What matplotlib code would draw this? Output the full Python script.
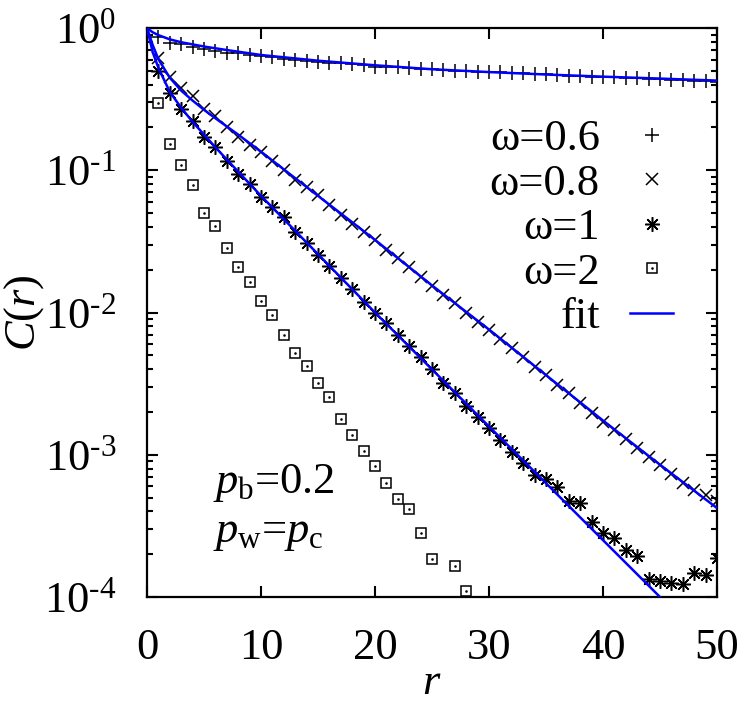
import numpy as np
import matplotlib
matplotlib.use("Agg")
from matplotlib import pyplot as plt
from matplotlib.ticker import FixedLocator, LogLocator, NullFormatter, FuncFormatter
from matplotlib.lines import Line2D

plt.rcParams['font.family'] = ['Liberation Serif', 'DejaVu Serif']
plt.rcParams['mathtext.fontset'] = 'custom'
plt.rcParams['mathtext.rm'] = 'Liberation Serif'
plt.rcParams['mathtext.it'] = 'Liberation Serif:italic'

# данные
r = np.arange(1, 51)
c06 = [0.86, 0.79, 0.77, 0.74, 0.71, 0.686, 0.67, 0.664, 0.649, 0.636,
       0.629, 0.608, 0.596, 0.583, 0.577, 0.570, 0.566, 0.558, 0.552, 0.535,
       0.532, 0.528, 0.523, 0.518, 0.513, 0.507, 0.501, 0.498, 0.493, 0.490,
       0.488, 0.485, 0.481, 0.477, 0.472, 0.468, 0.462, 0.460, 0.455, 0.452,
       0.449, 0.445, 0.443, 0.440, 0.436, 0.431, 0.429, 0.426, 0.422, 0.420]
c08 = [0.612, 0.455, 0.377, 0.333, 0.268, 0.240, 0.202, 0.172, 0.150, 0.135,
       0.117, 0.100, 0.086, 0.0766, 0.067, 0.057, 0.0484, 0.0419, 0.037, 0.0323,
       0.0275, 0.024, 0.021, 0.0178, 0.0154, 0.0133, 0.0116, 0.0100, 0.0086, 0.0075,
       0.00648, 0.0056, 0.00489, 0.00416, 0.00364, 0.00309, 0.0027, 0.0023, 0.00197, 0.0017,
       0.00149, 0.00128, 0.00111, 0.00097, 0.00085, 0.00073, 0.000636, 0.000565, 0.000521, 0.000473]
c10 = [0.50, 0.348, 0.271, 0.223, 0.170, 0.145, 0.117, 0.094, 0.080, 0.065,
       0.0554, 0.0466, 0.037, 0.0306, 0.0253, 0.0213, 0.0176, 0.0146, 0.0118, 0.0100,
       0.0084, 0.0069, 0.0058, 0.00484, 0.00399, 0.00321, 0.00273, 0.0022, 0.00183, 0.00153,
       0.00127, 0.00105, 0.00087, 0.00072, 0.000676, 0.000596, 0.000473, 0.000456, 0.000338, 0.00028,
       0.000259, 0.000214, 0.000194, 0.000133, 0.00013, 0.000125, 0.000123, 0.000148, 0.000143, 0.000187]
r2 = [1, 2, 3, 4, 5, 6, 7, 8, 9, 10, 11, 12, 13, 14, 15, 16, 17, 18, 19, 20,
      21, 22, 23, 24, 25, 27, 28]
c2 = [0.297, 0.153, 0.109, 0.0788, 0.050, 0.0405, 0.0286, 0.0209, 0.0164, 0.0120,
      0.0096, 0.00695, 0.00519, 0.0042, 0.00319, 0.00255, 0.00178, 0.00138, 0.00106, 0.00084,
      0.00063, 0.00049, 0.000415, 0.000282, 0.000185, 0.000165, 0.00011]

# линии фита
fit06_r = [0, 0.5, 1, 2, 3, 5, 7, 10, 15, 20, 25, 30, 35, 40, 45, 50]
fit06 = [1.0, 0.933, 0.891, 0.832, 0.794, 0.741, 0.700, 0.646, 0.589, 0.547,
         0.513, 0.490, 0.471, 0.455, 0.441, 0.427]
fit08_r = [0, 0.5, 1, 2, 3, 4, 5, 6, 8, 10, 15, 20, 25, 30, 35, 40, 45, 50]
fit08 = [1.0, 0.759, 0.603, 0.447, 0.363, 0.309, 0.266, 0.232, 0.178, 0.135,
         0.0661, 0.0324, 0.0155, 0.00759, 0.00363, 0.00174, 0.000851, 0.000422]
fit10_r = [0, 0.5, 1, 2, 3, 4, 5, 6, 8, 10, 15, 20, 25, 30, 35, 40, 45, 50]
fit10 = [1.0, 0.676, 0.525, 0.355, 0.275, 0.219, 0.178, 0.145, 0.0977, 0.0661,
         0.0257, 0.0100, 0.00398, 0.00158, 0.000631, 0.000251, 0.0001, 0.00004]

labels = ['ω=0.6', 'ω=0.8', 'ω=1', 'ω=2', 'fit']
x_ticks = [0, 10, 20, 30, 40, 50]

fig = plt.figure(figsize=(7.47, 7.05), dpi=100)
ax = fig.add_axes([147 / 747, 1 - 597 / 705, 570 / 747, 569 / 705])

blue = (0, 0, 1)
mk = dict(color='k', linestyle='none', markeredgewidth=1.1)
ax.plot(fit06_r, fit06, color=blue, lw=1.8, zorder=3)
ax.plot(fit08_r, fit08, color=blue, lw=1.8, zorder=3)
ax.plot(fit10_r, fit10, color=blue, lw=1.8, zorder=3)
h1, = ax.plot(r, c06, marker='+', markersize=10, **mk)
h2, = ax.plot(r, c08, marker='x', markersize=8, **mk)
h3, = ax.plot(r, c10, marker=(8, 2, 0), markersize=10.5, **mk)
h4, = ax.plot(r2, c2, marker='s', markersize=7.5, markerfacecolor='none', **mk)
h4b, = ax.plot(r2, c2, marker='.', markersize=1.5, **mk)
h5 = Line2D([], [], color=blue, lw=1.8)

ax.set_yscale('log')
ax.set_xlim(0, 50)
ax.set_ylim(1e-4, 1)

ax.xaxis.set_major_locator(FixedLocator(x_ticks))
ax.yaxis.set_major_locator(LogLocator(base=10, numticks=10))
ax.yaxis.set_minor_locator(LogLocator(base=10, subs=np.arange(2, 10), numticks=10))
ax.yaxis.set_minor_formatter(NullFormatter())


def sci(v, pos):
    e = int(round(np.log10(v)))
    if e < 0:
        return '$\\mathregular{10^{\u2010%d}}$' % (-e)
    return '$\\mathregular{10^{%d}}$' % e


ax.yaxis.set_major_formatter(FuncFormatter(sci))

ax.tick_params(which='both', direction='in', top=True, right=True, width=1.5)
ax.tick_params(which='major', length=8)
ax.tick_params(which='minor', length=4.5)
ax.tick_params(axis='x', labelsize=32, pad=22)
ax.tick_params(axis='y', labelsize=32, pad=22)
for s in ax.spines.values():
    s.set_linewidth(1.6)

ax.set_xlabel(r'$r$', fontsize=32, labelpad=-3)
ax.set_ylabel(r'$C(r)$', fontsize=32)
ax.yaxis.set_label_coords(-0.178, 0.5)

ax.legend([h1, h2, h3, (h4, h4b), h5], labels, loc='upper right',
          bbox_to_anchor=(0.923, 0.84), frameon=False, markerfirst=False,
          fontsize=32, handlelength=0.97, handletextpad=0.68,
          labelspacing=0.1, borderpad=0, borderaxespad=0)

ax.text(0.116, 0.183, r'$p_{\mathrm{b}}$=0.2', transform=ax.transAxes,
        fontsize=32, va='baseline')
ax.text(0.116, 0.097, r'$p_{\mathrm{w}}$=$p_{\mathrm{c}}$', transform=ax.transAxes,
        fontsize=32, va='baseline')

fig.savefig('out.png', dpi=100)
